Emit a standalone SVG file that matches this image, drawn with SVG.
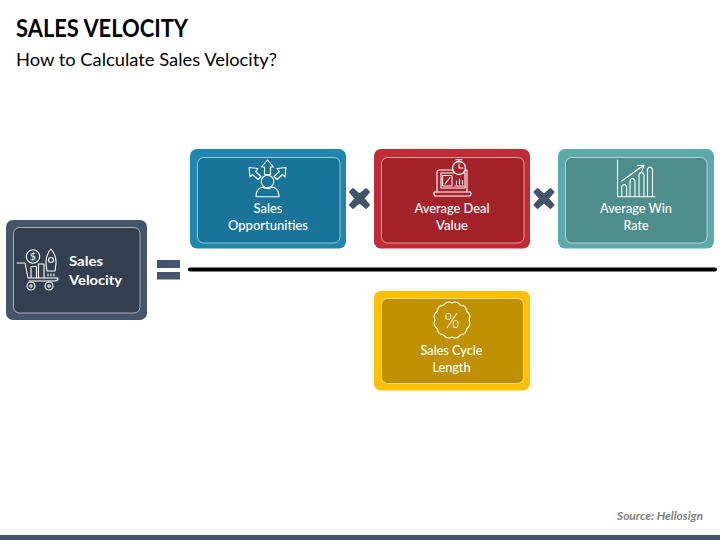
<svg xmlns="http://www.w3.org/2000/svg" width="720" height="540" viewBox="0 0 720 540">
<style>
text{font-family:"Lato","Open Sans","Liberation Sans",sans-serif}
.t{font-size:12.6px;fill:#fff;text-anchor:middle;font-weight:500}
.b{font-size:13.5px;fill:#fff;font-weight:700}
.in{fill:none;stroke:#fff;stroke-opacity:.55;stroke-width:1}
.ic{fill:none;stroke:#fff;stroke-width:1.1;stroke-linejoin:round;stroke-linecap:round}
.op{fill:#44546a;stroke:#44546a;stroke-width:1.5;stroke-linejoin:round}
</style>
<defs>
<path id="x" d="M-6.500-9.800 0-4.300 6.500-9.800 9.800-6.500 4.300 0 9.800 6.500 6.500 9.800 0 4.300-6.500 9.800-9.800 6.500-4.300 0-9.800-6.500Z"/>
</defs>
<rect width="720" height="540" fill="#fff"/>
<text x="16" y="37" font-size="24" font-weight="700" fill="#000" textLength="172" lengthAdjust="spacingAndGlyphs">SALES VELOCITY</text>
<text x="16" y="65.500" font-size="18" fill="#000" textLength="261" lengthAdjust="spacingAndGlyphs">How to Calculate Sales Velocity?</text>

<g id="connectors">
<line x1="190" y1="269.500" x2="715" y2="269.500" stroke="#000" stroke-width="4" stroke-linecap="round"/>
<rect fill="#44546a" x="157" y="260" width="23" height="8"/>
<rect fill="#44546a" x="157" y="272" width="23" height="7.500"/>
<use href="#x" class="op" x="359.500" y="198.500"/>
<use href="#x" class="op" x="544" y="198.500"/>
</g>

<g id="node-sales-velocity">
<rect x="6" y="220" width="141" height="100" rx="7" fill="#44546a"/>
<rect class="in" x="13.500" y="227.500" width="126.500" height="85.500" rx="6" style="fill:#333f50"/>
<g class="ic">
<circle cx="33" cy="256.500" r="6.700"/>
<path d="M17 263H25L28 278H58M29 281H55Q58 281 58 278M31 278V266.500H36.500V278M38.500 278V264H44V278"/>
<path d="M51 249Q45.500 255 46 264L47 271H55L56 264Q56.500 255 51 249Z"/>
<circle cx="51" cy="260" r="2.500"/>
<path d="M48 274V276M51 274V276M54 274V276"/>
<circle cx="31" cy="286" r="4"/><circle cx="31" cy="286" r="1.200"/>
<circle cx="49" cy="286" r="4"/><circle cx="49" cy="286" r="1.200"/>
</g>
<text x="33" y="260" font-size="10" fill="#fff" text-anchor="middle">$</text>
<text class="b" x="69" y="265.500" textLength="34" lengthAdjust="spacingAndGlyphs">Sales</text>
<text class="b" x="69" y="285" textLength="53" lengthAdjust="spacingAndGlyphs">Velocity</text>
</g>

<g id="node-sales-opportunities">
<rect x="190" y="149" width="156" height="99.500" rx="7" fill="#1f86ad"/>
<rect class="in" x="197.500" y="157.500" width="142.500" height="85.500" rx="6" style="fill:#1a7399"/>
<g class="ic">
<circle cx="267.500" cy="181.500" r="6.300"/>
<path d="M256 196.700Q256 188.500 262.500 187Q267.500 190 272.500 187Q279 188.500 279 196.700Z"/>
<path d="M267.500 160 273.500 167H270.500V174.500H264.500V167H261.500Z"/>
<path d="M249 167.500 258 168.500 255.500 171.500 261 176.500 258 179.500 252.500 174.500 250 177Z"/>
<path d="M286 167.500 277 168.500 279.500 171.500 274 176.500 277 179.500 282.500 174.500 285 177Z"/>
</g>
<text class="t" x="268" y="213" textLength="29" lengthAdjust="spacingAndGlyphs">Sales</text>
<text class="t" x="268" y="230" textLength="80" lengthAdjust="spacingAndGlyphs">Opportunities</text>
</g>

<g id="node-average-deal-value">
<rect x="374" y="149" width="156" height="99.500" rx="7" fill="#c12b36"/>
<rect class="in" x="381.500" y="157.500" width="142.500" height="85.500" rx="6" style="fill:#a4232b"/>
<g class="ic">
<path d="M437 192V172Q437 170 439 170H467V192"/>
<path d="M441 173H465V188H441Z"/>
<path d="M434 192H470.500L471 194Q471 196 469 196H436Q434 196 434 194Z"/>
<path d="M443 175.500H452V186H443Z" stroke-width="1"/>
<path d="M445 184 450 177.500M455 186H463.500M456.500 184V181M459.500 184V179M462.500 184V180.500"/>
<circle cx="459" cy="168" r="6.500" stroke-width="1.300" style="fill:#a4232b"/>
<path d="M459 164V168H463M456 159.800H462M459 160V161.500"/>
</g>
<text class="t" x="452" y="213" textLength="75" lengthAdjust="spacingAndGlyphs">Average Deal</text>
<text class="t" x="452" y="230" textLength="32" lengthAdjust="spacingAndGlyphs">Value</text>
</g>

<g id="node-average-win-rate">
<rect x="558" y="149" width="156" height="99.500" rx="7" fill="#5cabaa"/>
<rect class="in" x="565.500" y="157.500" width="141.500" height="85.500" rx="6" style="fill:#4d8e8c"/>
<g class="ic">
<path d="M617.500 160V196.700H655"/>
<path d="M621.700 196.500V186.500Q624.200 182.500 626.700 186.500V196.500M630 196.500V180.500Q632.500 176.500 635 180.500V196.500M639 196.500V174.500Q641.500 170.500 644 174.500V196.500M647.500 196.500V169Q650 165 652.500 169V196.500"/>
<path d="M621.700 181 644 165M637.300 165.700 644 165 641.700 171.700"/>
</g>
<text class="t" x="636" y="213" textLength="72" lengthAdjust="spacingAndGlyphs">Average Win</text>
<text class="t" x="636" y="230" textLength="25" lengthAdjust="spacingAndGlyphs">Rate</text>
</g>

<g id="node-sales-cycle-length">
<rect x="374" y="291" width="156" height="99.500" rx="7" fill="#ffc000"/>
<rect class="in" x="381.500" y="298.500" width="142" height="85" rx="6" style="fill:#bf9000"/>
<path class="ic" d="M469 320Q471.800 314.700 466.700 311.500Q466.500 305.500 460.500 305.300Q457.300 300.200 452 303Q446.700 300.200 443.500 305.300Q437.500 305.500 437.300 311.500Q432.200 314.700 435 320Q432.200 325.300 437.300 328.500Q437.500 334.500 443.500 334.700Q446.700 339.800 452 337Q457.300 339.800 460.500 334.700Q466.500 334.500 466.700 328.500Q471.800 325.300 469 320Z"/>
<text x="452" y="328" font-size="22" font-weight="300" fill="#fff" text-anchor="middle" textLength="15" lengthAdjust="spacingAndGlyphs">%</text>
<text class="t" x="451.500" y="355" textLength="62" lengthAdjust="spacingAndGlyphs">Sales Cycle</text>
<text class="t" x="451.500" y="372" textLength="38" lengthAdjust="spacingAndGlyphs">Length</text>
</g>

<text x="617" y="520" font-size="10.500" font-weight="700" font-style="italic" fill="#7f7f7f" textLength="86" lengthAdjust="spacingAndGlyphs">Source: Hellosign</text>
<rect x="0" y="535" width="720" height="5" fill="#44546a"/>
</svg>
